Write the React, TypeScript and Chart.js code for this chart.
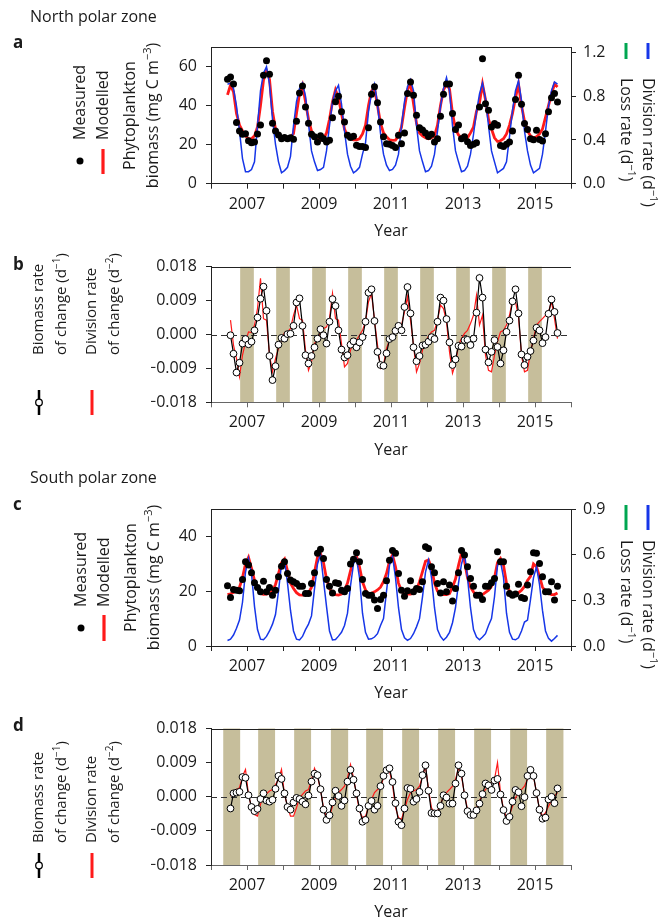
import React, { useEffect, useRef } from 'react';
import { Chart, registerables } from 'chart.js';

Chart.register(...registerables);

const FONT = '"Open Sans", "Noto Sans", "DejaVu Sans", sans-serif';
const INK = '#1a1a1a';
const RED = '#ff1a1a';
const BLUE = '#1636e8';
const GREEN = '#00a651';
const TAN = '#c6be9b';

// ---- axes / ticks ----
const yearTicks = [2006, 2007, 2008, 2009, 2010, 2011, 2012, 2013, 2014, 2015, 2016];
const yearLabels = ['', '2007', '', '2009', '', '2011', '', '2013', '', '2015', ''];
const biomassTicksN = [0, 20, 40, 60];
const biomassLabelsN = ['0', '20', '40', '60'];
const rateTicksN = [0, 0.4, 0.8, 1.2];
const rateLabelsN = ['0.0', '0.4', '0.8', '1.2'];
const biomassTicksS = [0, 20, 40];
const biomassLabelsS = ['0', '20', '40'];
const rateTicksS = [0, 0.3, 0.6, 0.9];
const rateLabelsS = ['0.0', '0.3', '0.6', '0.9'];
const changeTicks = [-0.018, -0.009, 0, 0.009, 0.018];
const changeLabels = ['\u22120.018', '\u22120.009', '0.000', '0.009', '0.018'];

// ---- time bases (monthly) ----
const biomassStart = { year: 2006, month: 6 }; // Jun 2006
const changeStart = { year: 2006, month: 7 }; // Jul 2006

// ---- North polar zone ----
const measuredN = [
  53.5, 54.7, 51, 31.3, 27, 25.3, 25.6, 22, 21, 21.4,
  25.5, 30, 55.5, 63, 56, 31, 27, 25, 23, 23.6,
  23, 23.5, 22.7, 32, 46.5, 50, 39.3, 31, 25.3, 24,
  21.4, 24.5, 23, 21.4, 22.2, 33.8, 42, 44.8, 36.8, 31.6,
  24.8, 23.6, 24.3, 19.7, 19.1, 19.1, 18.5, 28.7, 45.8, 49.6,
  41.4, 31.6, 24, 20.5, 20.2, 19.5, 18.5, 24.8, 20.5, 26,
  46.2, 52.1, 45.3, 35, 28.7, 27.5, 26, 24.2, 25.3, 21.4,
  23, 34.5, 45.8, 51, 51, 35.9, 27.7, 30, 23, 24,
  21.5, 19.5, 20.2, 21, 39.3, 64, 41, 37.6, 29, 30.8,
  29.9, 19.5, 19, 20.2, 21.4, 27, 43.1, 55.5, 40.7, 30.8,
  27.7, 23, 22.5, 27.4, 22.6, 21.9, 25.6, 36.8, 44, 46.2,
  41.9,
];
const modelledN = [
  45.5, 50.5, 47, 36, 30, 27, 24.5, 23, 23, 24.5,
  29, 40, 53, 58, 53.5, 37, 28, 25.5, 24, 23.5,
  23.4, 24, 25.6, 36, 46, 50.4, 42, 33, 27, 24.5,
  23, 22.3, 23, 26, 33, 42, 48, 44, 36, 28,
  24.5, 23, 22.4, 22.5, 23, 25.5, 30, 40, 47.5, 49,
  40, 31, 26, 24, 22.5, 22.2, 22.3, 24.5, 29, 39,
  48, 51.5, 41, 31, 26, 24.5, 23.5, 23, 23.5, 24.5,
  30, 40, 48, 51, 48.5, 36, 28, 25, 23.5, 23,
  23.5, 26, 29, 37, 41.5, 51, 43, 33, 28, 23.5,
  21.6, 22, 23, 25.5, 30, 36, 44, 51, 40, 32,
  27, 24.5, 23.5, 24, 25.5, 28, 34, 40, 46, 51,
  49.5,
];
const divisionN = [
  0.91, 0.92, 0.87, 0.71, 0.48, 0.23, 0.11, 0.11, 0.13, 0.2,
  0.53, 0.85, 1.01, 1.07, 0.91, 0.59, 0.36, 0.2, 0.1, 0.12,
  0.15, 0.25, 0.53, 0.75, 0.87, 0.92, 0.8, 0.55, 0.3, 0.2,
  0.12, 0.13, 0.15, 0.3, 0.53, 0.75, 0.85, 0.9, 0.73, 0.48,
  0.27, 0.16, 0.1, 0.12, 0.15, 0.27, 0.37, 0.66, 0.83, 0.91,
  0.73, 0.46, 0.27, 0.17, 0.12, 0.13, 0.17, 0.27, 0.53, 0.75,
  0.89, 0.95, 0.85, 0.53, 0.3, 0.2, 0.11, 0.12, 0.16, 0.27,
  0.48, 0.71, 0.87, 0.97, 0.85, 0.53, 0.3, 0.2, 0.11, 0.12,
  0.16, 0.27, 0.45, 0.66, 0.82, 0.92, 0.78, 0.53, 0.3, 0.2,
  0.1, 0.12, 0.14, 0.2, 0.43, 0.67, 0.85, 0.94, 0.76, 0.48,
  0.3, 0.17, 0.1, 0.12, 0.14, 0.27, 0.48, 0.71, 0.85, 0.93,
  0.91,
];
const biomassChangeN = [
  -0.0002, -0.0051, -0.0101, -0.0075, -0.0024, -0.0012, -0.0026, -0.0019, 0.0011, 0.0045,
  0.0095, 0.0127, 0.0063, -0.0057, -0.0121, -0.0084, -0.0027, -0.0009, -0.0011, 0.0001,
  0.0002, 0.0023, 0.0085, 0.0096, 0.0023, -0.0055, -0.0077, -0.0057, -0.0034, -0.0011,
  0.0014, -0.0002, -0.0024, 0.0034, 0.0094, 0.0076, 0.0011, -0.004, -0.0061, -0.0055,
  -0.0027, -0.0018, -0.0034, -0.0021, -0.0007, 0.0034, 0.0111, 0.012, 0.0036, -0.0046,
  -0.0081, -0.0083, -0.005, -0.0012, -0.0007, 0.001, 0.0023, 0.0011, 0.0073, 0.0126,
  0.0056, -0.0034, -0.0071, -0.0057, -0.0029, -0.0027, -0.0019, -0.0007, -0.0012, 0.0034,
  0.0098, 0.009, 0.0041, -0.0021, -0.0081, -0.0066, -0.003, -0.0032, -0.0015, -0.0014,
  -0.0028, -0.0011, 0.0058, 0.015, 0.0098, -0.004, -0.0074, -0.0046, -0.0015, -0.0033,
  -0.0077, -0.0042, 0.0007, 0.0037, 0.0088, 0.012, 0.0056, -0.0053, -0.0081, -0.0059,
  -0.0044, -0.0016, 0.0018, 0.0011, -0.0023, -0.0007, 0.0055, 0.0093, 0.006, 0.0004,
];
const divisionChangeN = [
  0.0038, -0.0028, -0.0064, -0.0112, -0.0055, -0.0021, 0.0007, 0.0005, 0.0025, 0.0069,
  0.0149, 0.0042, 0.0038, -0.0055, -0.0099, -0.0064, -0.0037, -0.0015, 0.0005, 0.0007,
  0.0016, 0.0051, 0.0078, 0.0042, 0.0038, -0.0042, -0.0095, -0.0073, -0.0024, -0.0012,
  0.0003, 0.0016, 0.002, 0.0042, 0.0109, 0.0042, 0.0038, -0.0024, -0.0086, -0.0077,
  -0.0042, -0.0021, -0.0015, -0.0002, 0.0011, 0.0034, 0.0087, 0.0109, 0.0038, -0.0028,
  -0.009, -0.0081, -0.0037, -0.0015, -0.0002, 0.0011, 0.002, 0.0025, 0.006, 0.01,
  0.0038, -0.0028, -0.0099, -0.0077, -0.0042, -0.0021, -0.0004, 0.0007, 0.0011, 0.0038,
  0.0078, 0.0069, 0.0034, -0.0046, -0.0103, -0.0077, -0.0028, -0.0011, 0.0003, 0.0011,
  0.0029, 0.0051, 0.0104, 0.0025, 0.0051, -0.0055, -0.0095, -0.0099, -0.0055, -0.0019,
  0.0007, 0.0011, 0.0025, 0.0051, 0.0091, 0.0087, 0.0047, -0.0055, -0.0099, -0.0095,
  -0.0046, -0.0011, 0.0025, 0.0034, 0.0042, 0.0051, 0.006, 0.0087, 0.0042, -0.0011,
];
const northWinters = [
  [2006.81, 2007.19], [2007.81, 2008.19], [2008.81, 2009.19], [2009.81, 2010.19],
  [2010.81, 2011.19], [2011.81, 2012.19], [2012.81, 2013.19], [2013.81, 2014.19],
  [2014.81, 2015.19],
];

// ---- South polar zone ----
const measuredS = [
  22, 17.7, 20.7, 20.4, 20.2, 24.3, 30.8, 29.6, 26.8, 23.1,
  21.4, 19.8, 23.7, 19.8, 21.4, 18.6, 20.4, 25.3, 29.2, 30.8,
  26.5, 24.1, 23.5, 22.9, 21.9, 21.9, 19.2, 19.2, 22.9, 26.8,
  33.9, 35.4, 32, 24.3, 21.9, 19.4, 23.1, 22.9, 20.4, 19.8,
  21, 30, 31.7, 34.1, 30.8, 24.3, 19.2, 18.6, 18.6, 16.8,
  13.7, 17, 18.6, 23.9, 31.4, 34.9, 33.9, 26.5, 20.4, 18.2,
  20.2, 23.9, 19.8, 21, 20.7, 23.5, 36.3, 35.7, 29, 26.8,
  22.9, 19.4, 23.5, 19.8, 22.3, 16.5, 21, 26.8, 34.9, 33.3,
  29, 24.7, 21.9, 18.6, 18.6, 17, 21.9, 21.9, 23.1, 24.7,
  34.5, 30.8, 30.8, 21.9, 19.2, 18.6, 19, 22.6, 17.7, 17.4,
  22.3, 27.2, 34.1, 33.9, 30.2, 25.3, 19.8, 19.8, 23.5, 16.8,
  21.9,
];
const modelledS = [
  18.8, 19.1, 19.6, 20.4, 21.5, 25, 30, 32.4, 28.5, 24,
  21, 19.2, 18.9, 19, 19.3, 20.2, 22.5, 26.5, 30.5, 31.8,
  27.5, 23, 21, 19.5, 18.7, 18.6, 18.8, 19.3, 21.5, 27,
  32.5, 33.8, 30.5, 24.5, 21, 19.3, 18.8, 18.6, 19, 20.5,
  23, 27.5, 31.5, 32.9, 29, 23.5, 20.5, 19, 19.3, 19.8,
  20.5, 21.5, 23.5, 26.5, 31, 33.3, 29, 23, 20, 19,
  19, 19, 19.2, 20.5, 23.5, 27.2, 31, 31.5, 28.5, 23,
  20, 19, 18.8, 18.8, 19.2, 21.5, 24.5, 29.5, 33.9, 31,
  25, 21.5, 19.8, 18.5, 18, 18.8, 19.6, 20.4, 21.8, 25,
  30.5, 32, 29.6, 23, 20, 19, 19, 19.5, 20.4, 21.8,
  24, 25.5, 30, 29, 25.5, 21.5, 20, 19.2, 18.8, 18.8,
  19.4,
];
const divisionS = [
  0.036, 0.045, 0.072, 0.117, 0.171, 0.288, 0.486, 0.576, 0.477, 0.261,
  0.108, 0.045, 0.041, 0.063, 0.099, 0.144, 0.207, 0.36, 0.54, 0.562,
  0.414, 0.234, 0.099, 0.045, 0.04, 0.063, 0.108, 0.144, 0.198, 0.378,
  0.54, 0.603, 0.432, 0.261, 0.099, 0.04, 0.043, 0.065, 0.09, 0.135,
  0.216, 0.396, 0.54, 0.576, 0.45, 0.216, 0.09, 0.045, 0.047, 0.059,
  0.081, 0.135, 0.18, 0.36, 0.531, 0.592, 0.45, 0.252, 0.108, 0.054,
  0.038, 0.049, 0.081, 0.126, 0.18, 0.324, 0.486, 0.565, 0.45, 0.252,
  0.108, 0.063, 0.038, 0.058, 0.09, 0.153, 0.252, 0.414, 0.54, 0.61,
  0.45, 0.252, 0.108, 0.059, 0.041, 0.059, 0.081, 0.135, 0.18, 0.324,
  0.531, 0.558, 0.45, 0.216, 0.09, 0.045, 0.041, 0.054, 0.099, 0.158,
  0.171, 0.306, 0.45, 0.522, 0.405, 0.234, 0.099, 0.05, 0.032, 0.049,
  0.07,
];
const biomassChangeS = [
  -0.0031, 0.0009, 0.0011, 0.0013, 0.0052, 0.005, 0.0004, -0.0027, -0.0038, -0.0032,
  -0.0006, 0.0009, -0.001, -0.0013, -0.0008, 0.0021, 0.0055, 0.0047, 0.0009, -0.0027,
  -0.0034, -0.0015, -0.0003, -0.0006, -0.0013, -0.002, 0.0003, 0.004, 0.0061, 0.0057,
  0.002, -0.0034, -0.0061, -0.0049, -0.0015, 0.0016, 0.0002, -0.0024, -0.001, 0.004,
  0.0071, 0.0045, 0.0009, -0.0031, -0.0066, -0.0061, -0.0024, -0.0011, -0.0034, -0.0024,
  0.0028, 0.0055, 0.007, 0.0075, 0.0039, -0.0017, -0.0066, -0.0075, -0.0031, 0.0023,
  0.0021, -0.0013, -0.0006, 0.0013, 0.0057, 0.0083, 0.0016, -0.0043, -0.0044, -0.0044,
  -0.0024, 0.0004, -0.0002, -0.0018, -0.0018, 0.0035, 0.0083, 0.0061, 0.0004, -0.0038,
  -0.0048, -0.0048, -0.0036, -0.0018, 0.0007, 0.0035, 0.003, 0.0018, 0.0043, 0.0047,
  0.0006, -0.0035, -0.0064, -0.0053, -0.0013, 0.0018, 0.0012, -0.0025, -0.0001, 0.0055,
  0.0071, 0.0055, 0.001, -0.0034, -0.0058, -0.0055, -0.0007, 0.0, -0.0017, 0.0022,
];
const divisionChangeS = [
  0.0002, 0.0011, 0.0019, 0.0024, 0.0054, 0.0072, 0.0006, -0.0029, -0.0047, -0.0051,
  -0.002, 0.0002, 0.0008, 0.0015, 0.0019, 0.0032, 0.0046, 0.0072, 0.0006, -0.0025,
  -0.0051, -0.0051, -0.0029, -0.0003, 0.0006, 0.0015, 0.0019, 0.0046, 0.0075, 0.0054,
  0.0019, -0.0029, -0.0055, -0.0051, -0.0025, -0.0003, 0.0011, 0.0019, 0.0028, 0.005,
  0.0085, 0.005, 0.0006, -0.0038, -0.0055, -0.0051, -0.0029, -0.0007, 0.0011, 0.0019,
  0.0024, 0.005, 0.0072, 0.0068, 0.0032, -0.0029, -0.0055, -0.006, -0.0033, -0.0007,
  0.0011, 0.0015, 0.0019, 0.0028, 0.0054, 0.0081, 0.0019, -0.0029, -0.0042, -0.0038,
  -0.002, 0.0002, 0.0011, 0.0019, 0.0028, 0.0046, 0.0076, 0.0054, 0.0006, -0.0033,
  -0.0051, -0.0047, -0.0029, -0.0011, 0.0006, 0.0019, 0.0028, 0.0037, 0.0046, 0.009,
  0.0011, -0.0033, -0.0055, -0.0047, -0.0025, -0.0003, 0.0011, 0.0019, 0.0028, 0.0046,
  0.0068, 0.0054, 0.0011, -0.0033, -0.0051, -0.0042, -0.0025, -0.0011, 0.0002, 0.0011,
];
const southWinters = [
  [2006.34, 2006.81], [2007.31, 2007.78], [2008.31, 2008.78], [2009.33, 2009.81],
  [2010.31, 2010.78], [2011.31, 2011.78], [2012.31, 2012.78], [2013.31, 2013.78],
  [2014.31, 2014.78], [2015.31, 2015.79],
];

// ---- helpers ----
function monthTimes(start: { year: number; month: number }, n: number) {
  const out: number[] = [];
  for (let i = 0; i < n; i++) out.push(start.year + (start.month - 1 + i + 0.5) / 12);
  return out;
}
function points(start: { year: number; month: number }, vals: number[]) {
  const t = monthTimes(start, vals.length);
  return vals.map((v, i) => ({ x: t[i], y: v }));
}

type Seg = { t: string; sup?: boolean };
type TextItem = { s: string | Seg[]; x: number; y: number; a?: number; center?: boolean; size?: number; bold?: boolean };
type Mark =
  | { k: 'dot'; x: number; y: number; r: number }
  | { k: 'vline'; x: number; y1: number; y2: number; w: number; c: string }
  | { k: 'circle'; x: number; y: number; r: number };

function drawRich(ctx: CanvasRenderingContext2D, item: TextItem, T: number) {
  const list: Seg[] = typeof item.s === 'string' ? [{ t: item.s }] : item.s;
  const size = item.size ?? 16;
  const weight = item.bold ? '700' : '400';
  const fontFor = (s: Seg) => `${weight} ${s.sup ? Math.round(size * 0.68) : size}px ${FONT}`;
  ctx.save();
  ctx.translate(item.x, item.y - T);
  ctx.rotate(((item.a ?? 0) * Math.PI) / 180);
  ctx.fillStyle = INK;
  ctx.textBaseline = 'middle';
  ctx.textAlign = 'left';
  let total = 0;
  for (const s of list) {
    ctx.font = fontFor(s);
    total += ctx.measureText(s.t).width;
  }
  let cx = item.center ? -total / 2 : 0;
  for (const s of list) {
    ctx.font = fontFor(s);
    ctx.fillText(s.t, cx, s.sup ? -size * 0.34 : 0);
    cx += ctx.measureText(s.t).width;
  }
  ctx.restore();
}

function drawMark(ctx: CanvasRenderingContext2D, m: Mark, T: number) {
  ctx.save();
  if (m.k === 'dot') {
    ctx.fillStyle = '#000';
    ctx.beginPath();
    ctx.arc(m.x, m.y - T, m.r, 0, Math.PI * 2);
    ctx.fill();
  } else if (m.k === 'vline') {
    ctx.strokeStyle = m.c;
    ctx.lineWidth = m.w;
    ctx.beginPath();
    ctx.moveTo(m.x, m.y1 - T);
    ctx.lineTo(m.x, m.y2 - T);
    ctx.stroke();
  } else {
    ctx.fillStyle = '#fff';
    ctx.strokeStyle = '#000';
    ctx.lineWidth = 1.3;
    ctx.beginPath();
    ctx.arc(m.x, m.y - T, m.r, 0, Math.PI * 2);
    ctx.fill();
    ctx.stroke();
  }
  ctx.restore();
}

const sup = (t: string): Seg => ({ t, sup: true });
const MINUS = '\u2212';

type Panel = {
  T: number; H: number; top: number; bottom: number;
  yMin: number; yMax: number; yTicks: number[]; yLabels: string[];
  y2?: { min: number; max: number; ticks: number[]; labels: string[] };
  xAxisColor: string;
  bands?: number[][];
  zeroLine?: boolean;
  datasets: any[];
  texts: TextItem[];
  marks: Mark[];
};

const L = 211;
const R = 571;

const biomassTitle = (x: number, y: number): TextItem[] => [
  { s: 'Phytoplankton', x, y, a: -90, center: true },
  { s: [{ t: 'biomass (mg C m' }, sup(MINUS + '3'), { t: ')' }], x: x + 23, y, a: -90, center: true },
];
const rateLegend = (yLine1: number, yLine2: number, yText: number): { texts: TextItem[]; marks: Mark[] } => ({
  texts: [
    { s: [{ t: 'Loss rate (d' }, sup(MINUS + '1'), { t: ')' }], x: 626, y: yText, a: 90 },
    { s: [{ t: 'Division rate (d' }, sup(MINUS + '1'), { t: ')' }], x: 648, y: yText, a: 90 },
  ],
  marks: [
    { k: 'vline', x: 626, y1: yLine1, y2: yLine2, w: 3, c: GREEN },
    { k: 'vline', x: 648, y1: yLine1, y2: yLine2, w: 3, c: BLUE },
  ],
});
const changeLegend = (yText: number, yM1: number, yM2: number): { texts: TextItem[]; marks: Mark[] } => ({
  texts: [
    { s: 'Biomass rate', x: 39, y: yText, a: -90, size: 15 },
    { s: [{ t: 'of change (d' }, sup(MINUS + '1'), { t: ')' }], x: 62, y: yText, a: -90, size: 15 },
    { s: 'Division rate', x: 92, y: yText, a: -90, size: 15 },
    { s: [{ t: 'of change (d' }, sup(MINUS + '2'), { t: ')' }], x: 115, y: yText, a: -90, size: 15 },
  ],
  marks: [
    { k: 'vline', x: 39, y1: yM1, y2: yM2, w: 2.5, c: '#000' },
    { k: 'circle', x: 39, y: (yM1 + yM2) / 2, r: 3.3 },
    { k: 'vline', x: 92, y1: yM1, y2: yM2, w: 3, c: RED },
  ],
});

const biomassDatasets = (meas: number[], model: number[], div: number[]) => [
  {
    label: 'Measured', data: points(biomassStart, meas), showLine: false,
    pointRadius: 3.5, pointBackgroundColor: '#000', pointBorderWidth: 0, order: 0,
  },
  {
    label: 'Division rate', data: points(biomassStart, div), yAxisID: 'y2',
    borderColor: BLUE, borderWidth: 1.5, pointRadius: 0, tension: 0, order: 1,
  },
  {
    label: 'Modelled', data: points(biomassStart, model),
    borderColor: RED, borderWidth: 2.8, pointRadius: 0, tension: 0, order: 2,
  },
];
const changeDatasets = (bio: number[], div: number[]) => [
  {
    label: 'Biomass rate of change', data: points(changeStart, bio),
    borderColor: '#000', borderWidth: 1.2, pointRadius: 3.4, pointBackgroundColor: '#fff',
    pointBorderColor: '#000', pointBorderWidth: 1, tension: 0, order: 0,
  },
  {
    label: 'Division rate of change', data: points(changeStart, div),
    borderColor: RED, borderWidth: 1.2, pointRadius: 0, tension: 0, order: 1,
  },
];

const legA = rateLegend(43, 59, 78);
const legB = changeLegend(355, 390, 415);
const legC = rateLegend(505, 530, 540);
const legD = changeLegend(843, 853, 878);

const PANELS: Panel[] = [
  {
    T: 0, H: 240, top: 47, bottom: 183.7,
    yMin: 0, yMax: 70, yTicks: biomassTicksN, yLabels: biomassLabelsN,
    y2: { min: 0, max: 1.25, ticks: rateTicksN, labels: rateLabelsN },
    xAxisColor: '#222',
    datasets: biomassDatasets(measuredN, modelledN, divisionN),
    texts: [
      { s: 'North polar zone', x: 30, y: 17 },
      { s: 'a', x: 13, y: 43, bold: true, size: 17 },
      { s: 'Measured', x: 80, y: 140, a: -90 },
      { s: 'Modelled', x: 103, y: 140, a: -90 },
      ...biomassTitle(130, 115.5),
      ...legA.texts,
      { s: 'Year', x: 391, y: 231, center: true },
    ],
    marks: [
      { k: 'dot', x: 80, y: 161, r: 3.5 },
      { k: 'vline', x: 103, y1: 149, y2: 174, w: 3.2, c: RED },
      ...legA.marks,
    ],
  },
  {
    T: 240, H: 230, top: 266.7, bottom: 402.3,
    yMin: -0.018, yMax: 0.018, yTicks: changeTicks, yLabels: changeLabels,
    xAxisColor: '#666', bands: northWinters, zeroLine: true,
    datasets: changeDatasets(biomassChangeN, divisionChangeN),
    texts: [
      { s: 'b', x: 13, y: 265.5, bold: true, size: 17 },
      ...legB.texts,
      { s: 'Year', x: 391, y: 450, center: true },
    ],
    marks: legB.marks,
  },
  {
    T: 470, H: 230, top: 509.3, bottom: 646,
    yMin: 0, yMax: 50, yTicks: biomassTicksS, yLabels: biomassLabelsS,
    y2: { min: 0, max: 0.9, ticks: rateTicksS, labels: rateLabelsS },
    xAxisColor: '#222',
    datasets: biomassDatasets(measuredS, modelledS, divisionS),
    texts: [
      { s: 'South polar zone', x: 30, y: 478 },
      { s: 'c', x: 13, y: 505, bold: true, size: 17 },
      { s: 'Measured', x: 81, y: 607, a: -90 },
      { s: 'Modelled', x: 104, y: 607, a: -90 },
      ...biomassTitle(131, 577.5),
      ...legC.texts,
      { s: 'Year', x: 391, y: 693.5, center: true },
    ],
    marks: [
      { k: 'dot', x: 81, y: 628, r: 3.5 },
      { k: 'vline', x: 104, y1: 615, y2: 641, w: 3.2, c: RED },
      ...legC.marks,
    ],
  },
  {
    T: 700, H: 221, top: 728.5, bottom: 865,
    yMin: -0.018, yMax: 0.018, yTicks: changeTicks, yLabels: changeLabels,
    xAxisColor: '#666', bands: southWinters, zeroLine: true,
    datasets: changeDatasets(biomassChangeS, divisionChangeS),
    texts: [
      { s: 'd', x: 13, y: 726, bold: true, size: 17 },
      ...legD.texts,
      { s: 'Year', x: 391, y: 912.5, center: true },
    ],
    marks: legD.marks,
  },
];

const X_AXIS_H = 40;
const Y_AXIS_W = 60;

function axisLook(color: string) {
  return {
    grid: { drawOnChartArea: false, drawTicks: true, tickLength: 5, color, lineWidth: 1 },
    border: { display: true, color, width: 1 },
  };
}

function buildConfig(p: Panel): any {
  const tickFont = { family: FONT, size: 16 };
  const scales: any = {
    x: {
      type: 'linear', min: 2006, max: 2016,
      afterBuildTicks: (s: any) => { s.ticks = yearTicks.map((v) => ({ value: v })); },
      afterFit: (s: any) => { s.height = X_AXIS_H; },
      ticks: {
        autoSkip: false, maxRotation: 0, minRotation: 0, padding: 6, color: INK, font: tickFont,
        callback: (_v: any, i: number) => yearLabels[i],
      },
      ...axisLook(p.xAxisColor),
    },
    y: {
      type: 'linear', position: 'left', min: p.yMin, max: p.yMax,
      afterBuildTicks: (s: any) => { s.ticks = p.yTicks.map((v) => ({ value: v })); },
      afterFit: (s: any) => { s.width = Y_AXIS_W; },
      ticks: {
        autoSkip: false, padding: 9, color: INK, font: tickFont,
        callback: (_v: any, i: number) => p.yLabels[i],
      },
      ...axisLook('#222'),
    },
  };
  if (p.y2) {
    const y2 = p.y2;
    scales.y2 = {
      type: 'linear', position: 'right', min: y2.min, max: y2.max,
      afterBuildTicks: (s: any) => { s.ticks = y2.ticks.map((v) => ({ value: v })); },
      afterFit: (s: any) => { s.width = Y_AXIS_W; },
      ticks: {
        autoSkip: false, padding: 7, color: INK, font: tickFont,
        callback: (_v: any, i: number) => y2.labels[i],
      },
      ...axisLook('#222'),
    };
  }

  const decor = {
    id: 'decor',
    beforeDraw(chart: any) {
      if (!p.bands) return;
      const { ctx, chartArea: ca, scales: sc } = chart;
      ctx.save();
      ctx.fillStyle = TAN;
      for (const [a, b] of p.bands) {
        const x1 = sc.x.getPixelForValue(a);
        const x2 = sc.x.getPixelForValue(b);
        ctx.fillRect(x1, ca.top, x2 - x1, ca.bottom - ca.top);
      }
      ctx.restore();
    },
    beforeDatasetsDraw(chart: any) {
      if (!p.zeroLine) return;
      const { ctx, chartArea: ca, scales: sc } = chart;
      const y0 = Math.round(sc.y.getPixelForValue(0)) + 0.5;
      ctx.save();
      ctx.strokeStyle = '#333';
      ctx.lineWidth = 1;
      ctx.setLineDash([6, 4]);
      ctx.beginPath();
      ctx.moveTo(ca.left, y0);
      ctx.lineTo(ca.right, y0);
      ctx.stroke();
      ctx.restore();
    },
    afterDraw(chart: any) {
      const { ctx, chartArea: ca } = chart;
      ctx.save();
      ctx.strokeStyle = '#222';
      ctx.lineWidth = 1;
      const yt = Math.round(ca.top) + 0.5;
      ctx.beginPath();
      ctx.moveTo(ca.left, yt);
      ctx.lineTo(ca.right, yt);
      ctx.stroke();
      ctx.restore();
      for (const t of p.texts) drawRich(ctx, t, p.T);
      for (const m of p.marks) drawMark(ctx, m, p.T);
    },
  };

  return {
    type: 'line',
    data: { datasets: p.datasets },
    options: {
      responsive: false,
      maintainAspectRatio: false,
      animation: false,
      devicePixelRatio: 1,
      events: [],
      layout: {
        padding: {
          left: L - Y_AXIS_W,
          right: 669 - R - (p.y2 ? Y_AXIS_W : 0),
          top: p.top - p.T,
          bottom: p.T + p.H - p.bottom - X_AXIS_H,
        },
      },
      plugins: { legend: { display: false }, tooltip: { enabled: false } },
      scales,
    },
    plugins: [decor],
  };
}

export default function App() {
  const refs = useRef<(HTMLCanvasElement | null)[]>([]);
  useEffect(() => {
    const charts = PANELS.map((p, i) => new Chart(refs.current[i] as HTMLCanvasElement, buildConfig(p)));
    return () => charts.forEach((c) => c.destroy());
  }, []);
  return (
    <div style={{ position: 'absolute', left: 0, top: 0, width: 669, height: 921, background: '#fff', overflow: 'hidden' }}>
      {PANELS.map((p, i) => (
        <canvas
          key={i}
          ref={(el) => { refs.current[i] = el; }}
          width={669}
          height={p.H}
          style={{ position: 'absolute', left: 0, top: p.T, width: 669, height: p.H, display: 'block' }}
        />
      ))}
    </div>
  );
}
